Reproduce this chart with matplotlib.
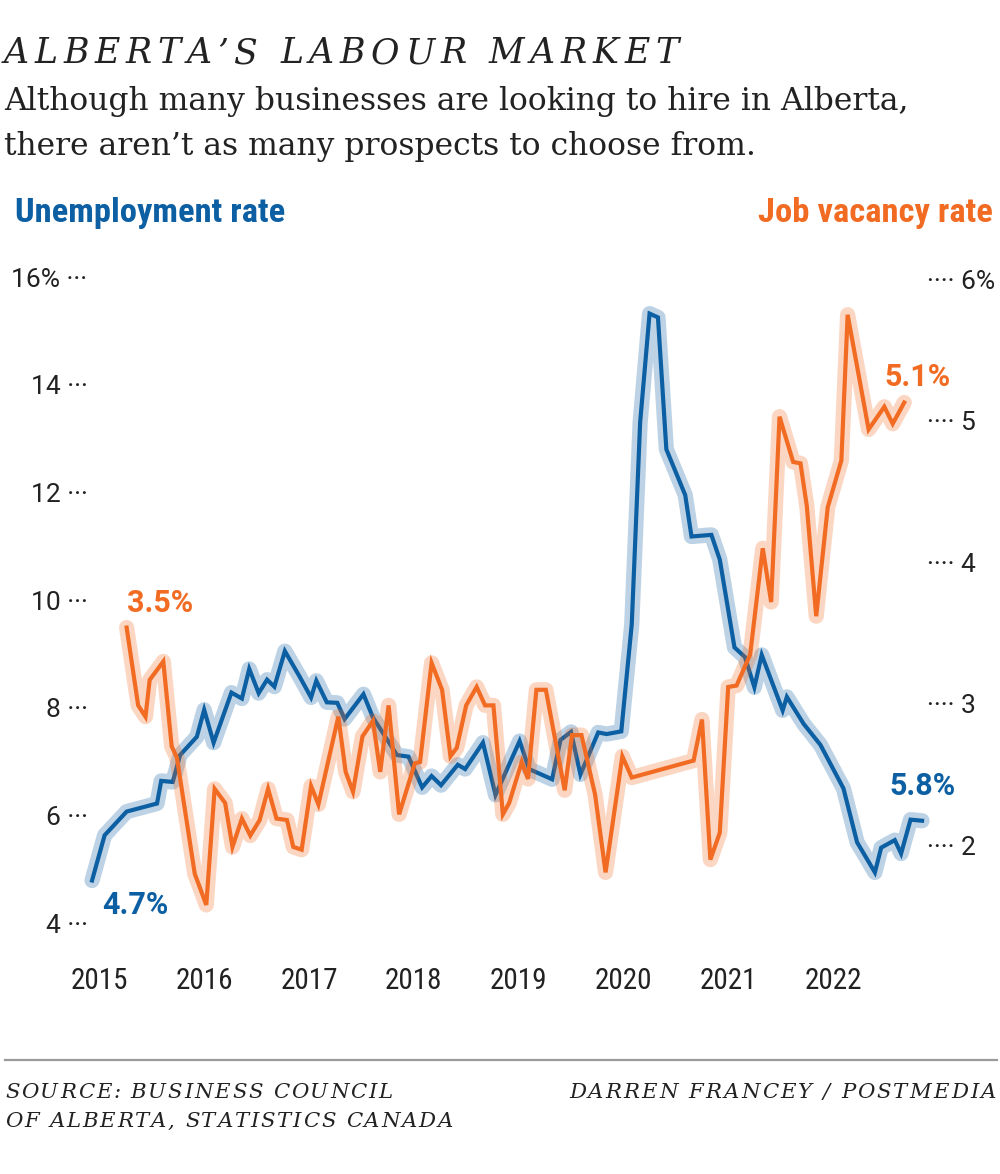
import matplotlib
matplotlib.use("Agg")
import matplotlib.pyplot as plt
from matplotlib import font_manager

# ---- data (decimal years) ----
unemp_dates = [2014.93, 2015.05, 2015.26, 2015.55, 2015.59, 2015.70, 2015.77, 2015.93,
               2016.00, 2016.09, 2016.26, 2016.36, 2016.43, 2016.52, 2016.60, 2016.67,
               2016.77, 2016.91, 2017.02, 2017.07, 2017.17, 2017.27, 2017.34, 2017.52,
               2017.61, 2017.84, 2017.95, 2018.08, 2018.17, 2018.26, 2018.42, 2018.49,
               2018.66, 2018.78, 2019.01, 2019.10, 2019.32, 2019.40, 2019.50, 2019.59,
               2019.76, 2019.84, 2019.98, 2020.08, 2020.16, 2020.25, 2020.33, 2020.41,
               2020.59, 2020.65, 2020.84, 2020.92, 2021.06, 2021.16, 2021.25, 2021.32,
               2021.52, 2021.56, 2021.72, 2021.88, 2022.10, 2022.23, 2022.40, 2022.46,
               2022.59, 2022.65, 2022.74, 2022.85]
unemp_rate = [4.79, 5.63, 6.07, 6.22, 6.64, 6.62, 7.12, 7.46,
              7.96, 7.35, 8.28, 8.17, 8.72, 8.27, 8.52, 8.39,
              9.05, 8.58, 8.19, 8.50, 8.10, 8.09, 7.79, 8.25,
              7.82, 7.12, 7.09, 6.52, 6.73, 6.56, 6.94, 6.86,
              7.35, 6.38, 7.38, 6.86, 6.67, 7.40, 7.55, 6.76,
              7.54, 7.51, 7.56, 9.55, 13.30, 15.32, 15.25, 12.80,
              11.95, 11.18, 11.21, 10.75, 9.12, 8.94, 8.38, 8.98,
              7.95, 8.20, 7.70, 7.31, 6.50, 5.50, 4.94, 5.40,
              5.54, 5.29, 5.92, 5.90]

vac_dates = [2015.26, 2015.37, 2015.44, 2015.48, 2015.61, 2015.69, 2015.74, 2015.91,
             2016.02, 2016.10, 2016.20, 2016.27, 2016.36, 2016.44, 2016.53, 2016.61,
             2016.69, 2016.79, 2016.85, 2016.93, 2017.02, 2017.09, 2017.28, 2017.35,
             2017.42, 2017.51, 2017.61, 2017.68, 2017.76, 2017.86, 2018.01, 2018.06,
             2018.17, 2018.27, 2018.35, 2018.41, 2018.50, 2018.60, 2018.68, 2018.76,
             2018.85, 2018.91, 2019.03, 2019.09, 2019.17, 2019.26, 2019.44, 2019.51,
             2019.60, 2019.73, 2019.83, 2019.99, 2020.08, 2020.67, 2020.75, 2020.83,
             2020.92, 2021.00, 2021.08, 2021.21, 2021.33, 2021.41, 2021.49, 2021.62,
             2021.69, 2021.75, 2021.84, 2021.95, 2022.08, 2022.14, 2022.34, 2022.49,
             2022.57, 2022.68]
vac_rate = [3.54, 2.99, 2.91, 3.17, 3.30, 2.70, 2.62, 1.80,
            1.58, 2.40, 2.30, 1.99, 2.19, 2.07, 2.18, 2.40,
            2.19, 2.18, 1.99, 1.97, 2.42, 2.29, 2.91, 2.52,
            2.38, 2.77, 2.88, 2.52, 2.99, 2.22, 2.58, 2.59,
            3.29, 3.10, 2.63, 2.69, 2.99, 3.12, 2.99, 2.99,
            2.22, 2.30, 2.59, 2.47, 3.10, 3.10, 2.39, 2.78,
            2.78, 2.36, 1.81, 2.63, 2.48, 2.60, 2.89, 1.90,
            2.09, 3.12, 3.13, 3.35, 4.10, 3.72, 5.03, 4.71,
            4.70, 4.40, 3.62, 4.39, 4.72, 5.75, 4.94, 5.10,
            4.98, 5.13]

years = list(range(2015, 2023))
left_ticks = [4, 6, 8, 10, 12, 14, 16]
right_ticks = [2, 3, 4, 5, 6]

BLUE = "#0b5fa2"
ORANGE = "#f26b22"
INK = "#222222"

# fonts
names = {f.name for f in font_manager.fontManager.ttflist}
def pick(*cands):
    for c in cands:
        if c in names:
            return c
    return "DejaVu Sans"

NARROW = pick("Liberation Sans Narrow", "Roboto Condensed", "Roboto")
SANS = pick("Roboto", "Lato", "DejaVu Sans")
SLAB = pick("DejaVu Serif")

W, H = 1000, 1174
fig = plt.figure(figsize=(W / 100, H / 100), dpi=100)
renderer = fig.canvas.get_renderer()

def px(x, y):
    return x / W, 1 - y / H

def char_width(ch, **kw):
    if ch == " ":
        a = fig.text(0, 0, "n n", **kw)
        b = fig.text(0, 0, "nn", **kw)
        w = a.get_window_extent(renderer).width - b.get_window_extent(renderer).width
        a.remove()
        b.remove()
        return w
    t = fig.text(0, 0, ch, **kw)
    w = t.get_window_extent(renderer).width
    t.remove()
    return w

# letter-spaced text (x, y in pixels, track = extra pixels between letters)
def tracked(x, y, s, track, ha="left", **kw):
    widths = [char_width(c, **kw) for c in s]
    total = sum(widths) + track * (len(s) - 1)
    cx = x - total if ha == "right" else x
    for c, w in zip(s, widths):
        if c != " ":
            fig.text(*px(cx, y), c, ha="left", va="baseline", **kw)
        cx += w + track

ax = fig.add_axes([0.0889, 0.2092, 0.8363, 0.5686])
ax2 = ax.twinx()

ax.plot(unemp_dates, unemp_rate, color=BLUE, lw=11, alpha=0.27,
        solid_joinstyle="round", solid_capstyle="round", clip_on=False)
ax.plot(unemp_dates, unemp_rate, color=BLUE, lw=3,
        solid_joinstyle="miter", clip_on=False)
ax2.plot(vac_dates, vac_rate, color=ORANGE, lw=11, alpha=0.27,
         solid_joinstyle="round", solid_capstyle="round", clip_on=False)
ax2.plot(vac_dates, vac_rate, color=ORANGE, lw=3,
         solid_joinstyle="miter", clip_on=False)

ax.set_xlim(2014.9, 2022.88)
ax.set_ylim(3.9, 16.3)
ax2.set_ylim(1.414, 6.131)

for a in (ax, ax2):
    for s in a.spines.values():
        s.set_visible(False)

ax.set_xticks(years)
ax.set_xticklabels([str(y) for y in years], fontfamily=NARROW, fontsize=21, color=INK)
ax.tick_params(axis="x", length=0, pad=28)

ax.set_yticks(left_ticks)
ax.set_yticklabels([f"{t}% \u00b7\u00b7\u00b7" if t == 16 else f"{t} \u00b7\u00b7\u00b7"
                    for t in left_ticks], fontfamily=SANS, fontsize=19, color=INK)
ax.tick_params(axis="y", length=0, pad=1)

ax2.set_yticks(right_ticks)
ax2.set_yticklabels([f"\u00b7\u00b7\u00b7\u00b7 {t}%" if t == 6 else f"\u00b7\u00b7\u00b7\u00b7 {t}"
                     for t in right_ticks], fontfamily=SANS, fontsize=19, color=INK)
ax2.tick_params(axis="y", length=0, pad=1)

# end labels
lab = dict(fontfamily=SANS, fontsize=22, fontweight="bold", textcoords="offset points", va="baseline")
ax2.annotate("3.5%", (vac_dates[0], vac_rate[0]), xytext=(0, 11.5), ha="left", color=ORANGE, **lab)
ax2.annotate("5.1%", (vac_dates[-1], vac_rate[-1]), xytext=(33, 12.2), ha="right", color=ORANGE, **lab)
ax.annotate("4.7%", (unemp_dates[0], unemp_rate[0]), xytext=(7, -23.8), ha="left", color=BLUE, **lab)
ax.annotate("5.8%", (unemp_dates[-1], unemp_rate[-1]), xytext=(24, 18.7), ha="right", color=BLUE, **lab)

# header
tracked(4, 63, "ALBERTA\u2019S LABOUR MARKET", 5.7, fontfamily=SLAB, style="italic",
        fontsize=25, color=INK)
fig.text(*px(4, 110), "Although many businesses are looking to hire in Alberta,",
         fontfamily=SLAB, fontsize=22.6, color=INK, va="baseline", ha="left")
fig.text(*px(4, 155), "there aren\u2019t as many prospects to choose from.",
         fontfamily=SLAB, fontsize=22.6, color=INK, va="baseline", ha="left")
fig.text(*px(15, 222), "Unemployment rate", fontfamily=NARROW, fontweight="bold",
         fontsize=24.8, color=BLUE, va="baseline", ha="left")
fig.text(*px(993, 222), "Job vacancy rate", fontfamily=NARROW, fontweight="bold",
         fontsize=24.8, color=ORANGE, va="baseline", ha="right")

# footer
fig.add_artist(plt.Line2D([5 / W, 997 / W], [1 - 1060 / H, 1 - 1060 / H],
                          color="#9a9a9a", lw=1.6))
foot = dict(fontfamily=SLAB, style="italic", fontsize=15.3, color=INK)
tracked(5, 1098, "SOURCE: BUSINESS COUNCIL", 1.8, **foot)
tracked(5, 1127, "OF ALBERTA, STATISTICS CANADA", 1.8, **foot)
tracked(996, 1098, "DARREN FRANCEY / POSTMEDIA", 2.1, ha="right", **foot)

fig.savefig("out.png", dpi=100, facecolor="white")
